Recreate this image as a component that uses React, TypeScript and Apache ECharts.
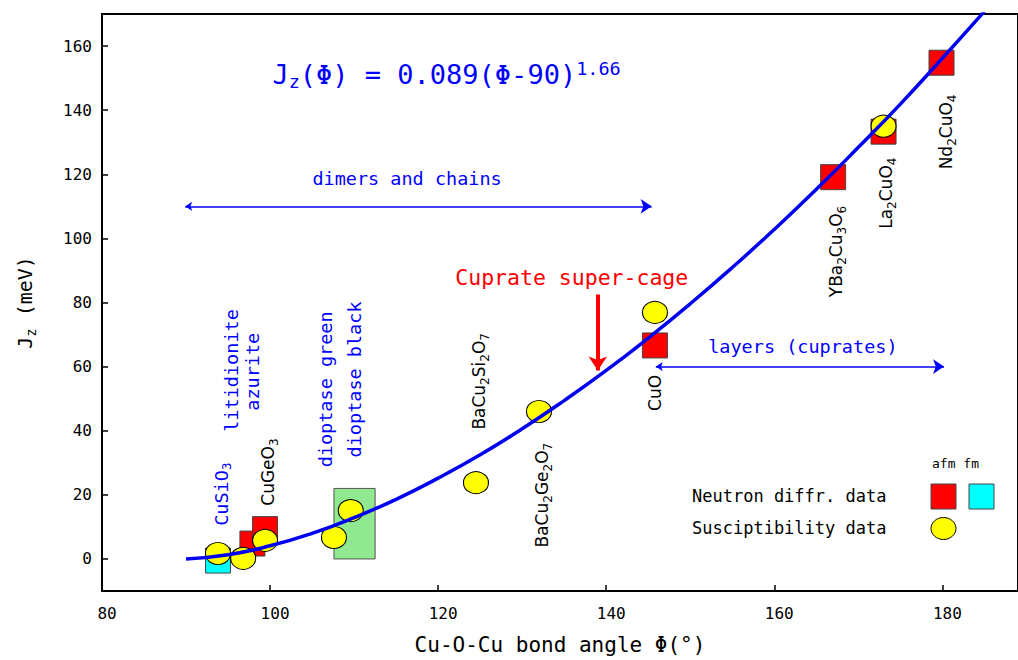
import React, { useEffect, useRef } from 'react';
import * as echarts from 'echarts';

const xTicks = [80, 100, 120, 140, 160, 180];
const yTicks = [0, 20, 40, 60, 80, 100, 120, 140, 160];

// fitted curve
const curveAngle = [90, 95, 100, 105, 110, 115, 120, 125, 130, 135, 140, 145, 150, 155, 160, 165, 170, 175, 180, 185];
const curveJ = [0, 1.3, 4.1, 8.0, 12.9, 18.6, 25.2, 32.5, 40.6, 49.4, 58.8, 68.9, 79.6, 90.9, 102.8, 115.3, 128.4, 141.9, 156.2, 170.8];

// neutron diffraction, afm (red squares)
const afmAngle = [97.9, 99.4, 145.8, 167.0, 173.0, 179.9];
const afmJ = [4.8, 9.3, 66.6, 119.1, 133.3, 154.8];
// neutron diffraction, fm (cyan square)
const fmAngle = [93.8];
const fmJ = [-0.5];
// susceptibility (yellow circles)
const suscAngle = [93.8, 96.8, 99.4, 107.6, 109.6, 124.5, 132.0, 145.8, 173.0];
const suscJ = [1.7, 0.2, 5.8, 6.7, 15.1, 23.8, 46.0, 76.9, 135.0];
// dioptase range box
const boxAngle = [107.6, 112.5];
const boxJ = [0, 22];

// compound labels (rotated)
const compounds = ['CuSiO3', 'CuGeO3', 'BaCu2Si2O7', 'BaCu2Ge2O7', 'CuO', 'YBa2Cu3O6', 'La2CuO4', 'Nd2CuO4'];
const compoundAngle = [94.2, 99.7, 124.9, 132.3, 145.8, 167.3, 173.3, 180.4];
const compoundJ = [20.2, 27.1, 55.4, 19.9, 51.8, 95.9, 114.1, 133.2];
const compoundMono = [true, false, false, false, false, false, false, false];

// mineral labels (rotated, blue)
const minerals = ['litidionite', 'azurite', 'dioptase green', 'dioptase black'];
const mineralAngle = [95.45, 97.9, 106.6, 110.1];
const mineralJ = [58.8, 58.4, 52.9, 56.0];

// horizontal annotations
const noteTexts = ['dimers and chains', 'layers (cuprates)'];
const noteAngle = [116.3, 163.4];
const noteJ = [118.6, 66.2];
const cageText = 'Cuprate super-cage';
const cagePos = [135.9, 87.7];
const eqPos = [121.0, 151.0];

// arrows
const dimersArrow = [[89.9, 110], [145.4, 110]];
const layersArrow = [[145.9, 60], [180.2, 60]];
const cageArrow = [[139, 82.5], [139, 58.8]];

const MONO = '"DejaVu Sans Mono", monospace';
const SANS = '"DejaVu Sans", sans-serif';
const BLUE = '#0000ff';

const toRich = (s: string, base: string, sub: string) =>
  s
    .split(/(\d+)/)
    .filter((t) => t.length > 0)
    .map((t) => (/^\d+$/.test(t) ? `{${sub}|${t}}` : `{${base}|${t}}`))
    .join('');

const nb = { textBorderWidth: 0, textBorderColor: 'transparent', textShadowBlur: 0 };

export default function App() {
  const ref = useRef<HTMLDivElement>(null);

  useEffect(() => {
    if (!ref.current) return;
    const chart = echarts.init(ref.current, undefined, { renderer: 'svg' });

    const labelRich = {
      sn: { ...nb, fontFamily: SANS, fontSize: 17, lineHeight: 24, color: '#000' },
      ss: { ...nb, fontFamily: SANS, fontSize: 12, lineHeight: 10, verticalAlign: 'bottom', color: '#000' },
      mn: { ...nb, fontFamily: MONO, fontSize: 18.5, lineHeight: 24, color: BLUE },
      ms: { ...nb, fontFamily: MONO, fontSize: 12.5, lineHeight: 10, verticalAlign: 'bottom', color: BLUE },
      en: { ...nb, fontFamily: MONO, fontSize: 27, lineHeight: 32, color: BLUE },
      es: { ...nb, fontFamily: MONO, fontSize: 18.5, lineHeight: 24, verticalAlign: 'bottom', color: BLUE },
      ep: { ...nb, fontFamily: MONO, fontSize: 18.5, lineHeight: 20, verticalAlign: 'top', color: BLUE },
      rd: { ...nb, fontFamily: MONO, fontSize: 21.5, lineHeight: 26, color: '#ff0000' },
    };

    const labelData: any[] = [];
    compounds.forEach((c, i) => {
      labelData.push({
        value: [compoundAngle[i], compoundJ[i]],
        label: {
          formatter: compoundMono[i] ? toRich(c, 'mn', 'ms') : toRich(c, 'sn', 'ss'),
          rotate: 90,
        },
      });
    });
    minerals.forEach((m, i) => {
      labelData.push({
        value: [mineralAngle[i], mineralJ[i]],
        label: { formatter: `{mn|${m}}`, rotate: 90 },
      });
    });
    noteTexts.forEach((t, i) => {
      labelData.push({
        value: [noteAngle[i], noteJ[i]],
        label: { formatter: `{mn|${t}}`, rotate: 0 },
      });
    });
    labelData.push({
      value: cagePos,
      label: { formatter: `{rd|${cageText}}`, rotate: 0 },
    });
    labelData.push({
      value: eqPos,
      label: { formatter: '{en|J}{es|z}{en|(Φ) = 0.089(Φ-90)}{ep|1.66}', rotate: 0 },
    });

    const option: any = {
      animation: false,
      backgroundColor: '#fff',
      grid: {
        left: 102,
        right: -2,
        top: 14,
        bottom: 67,
        show: true,
        borderColor: '#000',
        borderWidth: 2,
        backgroundColor: 'transparent',
      },
      xAxis: {
        type: 'value',
        min: 80,
        max: 189,
        axisLine: { show: true, onZero: false, lineStyle: { color: '#000', width: 2 } },
        axisTick: { show: true, inside: true, length: 6, customValues: xTicks, lineStyle: { color: '#000', width: 1.5 } },
        axisLabel: {
          customValues: xTicks,
          fontFamily: MONO,
          fontSize: 16,
          color: '#000',
          margin: 14,
          padding: [0, 0, 0, 10],
        },
        splitLine: { show: false },
        name: 'Cu-O-Cu bond angle Φ(°)',
        nameLocation: 'middle',
        nameGap: 43,
        nameTextStyle: { fontFamily: MONO, fontSize: 21, color: '#000' },
      },
      yAxis: {
        type: 'value',
        min: -10,
        max: 170,
        axisLine: { show: true, onZero: false, lineStyle: { color: '#000', width: 2 } },
        axisTick: { show: true, inside: true, length: 6, customValues: yTicks, lineStyle: { color: '#000', width: 1.5 } },
        axisLabel: {
          customValues: yTicks,
          fontFamily: MONO,
          fontSize: 16,
          color: '#000',
          margin: 10,
        },
        splitLine: { show: false },
        name: '{n|J}{s|z}{n| (meV)}',
        nameLocation: 'middle',
        nameGap: 64,
        nameRotate: 90,
        nameTextStyle: {
          rich: {
            n: { fontFamily: MONO, fontSize: 20, lineHeight: 26, color: '#000' },
            s: { fontFamily: MONO, fontSize: 14, lineHeight: 18, verticalAlign: 'bottom', color: '#000' },
          },
        },
      },
      series: [
        {
          type: 'custom',
          name: 'box',
          silent: true,
          data: [[boxAngle[0], boxJ[0], boxAngle[1], boxJ[1]]],
          encode: { x: [0, 2], y: [1, 3] },
          renderItem: (params: any, api: any) => {
            const p0 = api.coord([api.value(0), api.value(1)]);
            const p1 = api.coord([api.value(2), api.value(3)]);
            return {
              type: 'rect',
              shape: {
                x: Math.min(p0[0], p1[0]),
                y: Math.min(p0[1], p1[1]),
                width: Math.abs(p1[0] - p0[0]),
                height: Math.abs(p1[1] - p0[1]),
              },
              style: { fill: '#90e890', stroke: '#555', lineWidth: 1 },
            };
          },
        },
        {
          type: 'scatter',
          name: 'fm',
          silent: true,
          symbol: 'rect',
          symbolSize: [25, 25],
          itemStyle: { color: '#00ffff', borderColor: '#444', borderWidth: 1, opacity: 1 },
          data: fmAngle.map((a, i) => [a, fmJ[i]]),
        },
        {
          type: 'scatter',
          name: 'afm',
          silent: true,
          symbol: 'rect',
          symbolSize: [25, 25],
          itemStyle: { color: '#ff0000', borderColor: '#444', borderWidth: 1, opacity: 1 },
          data: afmAngle.map((a, i) => [a, afmJ[i]]),
        },
        {
          type: 'scatter',
          name: 'susc',
          silent: true,
          symbol: 'circle',
          symbolSize: [25, 22],
          itemStyle: { color: '#ffff00', borderColor: '#000', borderWidth: 1, opacity: 1 },
          data: suscAngle.map((a, i) => [a, suscJ[i]]),
        },
        {
          type: 'line',
          name: 'fit',
          silent: true,
          smooth: true,
          showSymbol: false,
          symbol: 'none',
          lineStyle: { color: '#0000f0', width: 3.5 },
          data: curveAngle.map((a, i) => [a, curveJ[i]]),
        },
        {
          type: 'lines',
          coordinateSystem: 'cartesian2d',
          silent: true,
          symbol: ['arrow', 'arrow'],
          symbolSize: [7, 11],
          lineStyle: { color: BLUE, width: 1.5, opacity: 1 },
          data: [{ coords: dimersArrow }, { coords: layersArrow }],
        },
        {
          type: 'lines',
          coordinateSystem: 'cartesian2d',
          silent: true,
          symbol: ['none', 'arrow'],
          symbolSize: [13, 14],
          lineStyle: { color: '#ff0000', width: 4, opacity: 1 },
          data: [{ coords: cageArrow }],
        },
        {
          type: 'scatter',
          name: 'labels',
          silent: true,
          symbolSize: 1,
          itemStyle: { color: 'transparent', opacity: 1 },
          label: { show: true, position: 'inside', opacity: 1, ...nb, rich: labelRich },
          data: labelData,
        },
      ],
      graphic: [
        {
          type: 'text',
          left: 932,
          top: 457,
          style: { text: 'afm fm', font: `13px ${MONO}`, fill: '#000' },
        },
        {
          type: 'text',
          x: 692,
          y: 496,
          style: { text: 'Neutron diffr. data', font: `17px ${MONO}`, fill: '#000', textVerticalAlign: 'middle' },
        },
        {
          type: 'text',
          x: 692,
          y: 528,
          style: { text: 'Susciptibility data', font: `17px ${MONO}`, fill: '#000', textVerticalAlign: 'middle' },
        },
        {
          type: 'rect',
          shape: { x: 931, y: 484, width: 25, height: 25 },
          style: { fill: '#ff0000', stroke: '#444', lineWidth: 1 },
        },
        {
          type: 'rect',
          shape: { x: 969, y: 484, width: 25, height: 25 },
          style: { fill: '#00ffff', stroke: '#444', lineWidth: 1 },
        },
        {
          type: 'ellipse',
          shape: { cx: 943.5, cy: 528.5, rx: 12.5, ry: 11 },
          style: { fill: '#ffff00', stroke: '#000', lineWidth: 1 },
        },
      ],
    };

    chart.setOption(option);
    return () => chart.dispose();
  }, []);

  return (
    <div
      ref={ref}
      style={{ position: 'fixed', left: 0, top: 0, width: 1018, height: 660, background: '#fff' }}
    />
  );
}
